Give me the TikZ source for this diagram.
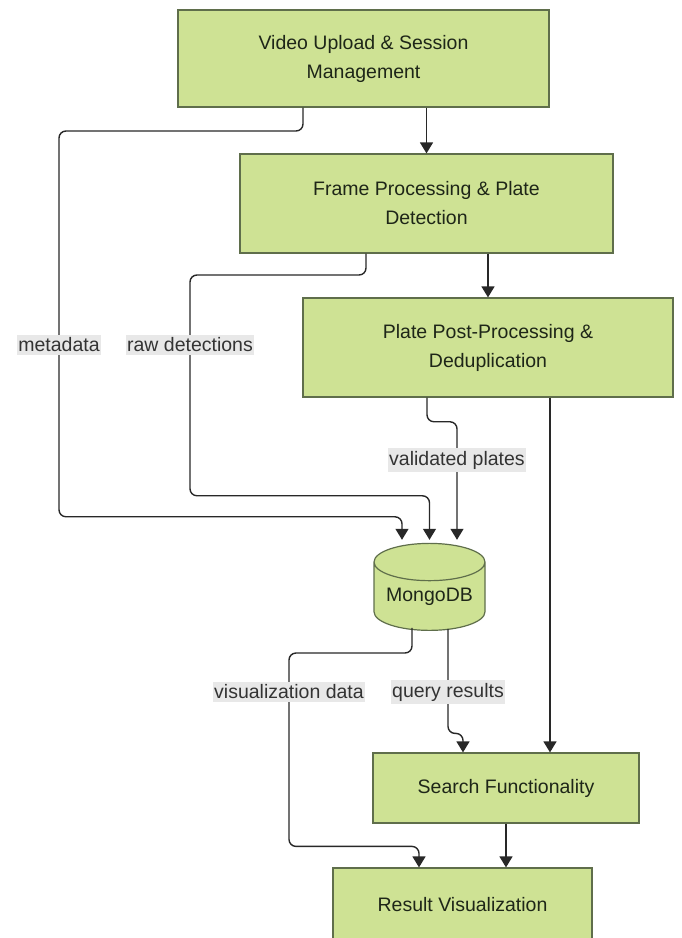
\documentclass[tikz,border=0pt]{standalone}
\usepackage{fontspec}
\setmainfont{Liberation Sans}
\usetikzlibrary{shapes.geometric,arrows.meta,calc}
\definecolor{boxfill}{RGB}{206,226,148}
\definecolor{boxline}{RGB}{95,110,75}
\definecolor{lblfill}{RGB}{232,232,232}
\definecolor{wirecol}{RGB}{40,40,40}
\definecolor{txtcol}{RGB}{30,38,24}
\begin{document}
\begin{tikzpicture}[x=1pt,y=-1pt,
  box/.style={draw=boxline, fill=boxfill, line width=1.2pt, align=center,
    font=\fontsize{19.5}{29}\selectfont, text=txtcol, inner sep=0pt},
  dbshape/.style={cylinder, shape border rotate=90, aspect=0.43, draw=boxline,
    fill=boxfill, line width=1.2pt, font=\fontsize{19.5}{24}\selectfont,
    text=txtcol, inner sep=0pt},
  wire/.style={draw=wirecol, line width=1.4pt, rounded corners=7pt},
  arr/.style={wire, -{Triangle[length=11pt,width=13pt]}},
  lab/.style={fill=lblfill, font=\fontsize{19.5}{24}\selectfont, text=black!80,
    inner xsep=1.5pt, inner ysep=3pt}]
\useasboundingbox (0,0) rectangle (681,938);

\node[box, minimum width=371pt, minimum height=97pt] (upload) at (363.5,58.5)
  {Video Upload \& Session\\Management};
\node[box, minimum width=373pt, minimum height=99pt] (frame) at (426.5,203.5)
  {Frame Processing \& Plate\\Detection};
\node[box, minimum width=370pt, minimum height=99pt] (post) at (488,347.5)
  {Plate Post-Processing \&\\Deduplication};
\node[dbshape, minimum width=111pt, minimum height=87pt] (mongo) at (429.5,596.5)
  {MongoDB};
\node[box, minimum width=266pt, minimum height=70pt] (search) at (506,788)
  {Search Functionality};
\node[box, minimum width=259pt, minimum height=74pt] (result) at (462.5,905)
  {Result Visualization};

% main flow
\draw[arr] (upload.south -| frame.north) -- (frame.north);
\draw[arr] (frame.south -| post.north) -- (post.north);

% metadata
\draw[arr] ($(upload.south)+(-60.5,0)$) |- (59,131)
  |- ($(mongo.north)+(-27.5,-26)$) -- ($(mongo.north)+(-27.5,-3)$);
% raw detections
\draw[arr] ($(frame.south)+(-60.5,0)$) |- (190,275)
  |- ($(mongo.north)+(0,-47)$) -- ($(mongo.north)+(0,-3)$);
% validated plates
\draw[arr] ($(post.south)+(-61,0)$) |- ($(mongo.north)+(27.5,-121)$)
  -- ($(mongo.north)+(27.5,-3)$);
% post -> search
\draw[arr] ($(post.south)+(62,0)$) -- ($(search.north)+(44,0)$);
% query results
\draw[arr] ($(mongo.south)+(18.5,-2)$) |- ($(search.north)+(-43,-19)$)
  -- ($(search.north)+(-43,0)$);
% visualization data
\draw[arr] ($(mongo.south)+(-17.5,-3)$) |- (289,653)
  |- ($(result.north)+(-43.5,-21)$) -- ($(result.north)+(-43.5,0)$);
% search -> result
\draw[arr] (search.south) -- (search.south |- result.north);

% labels
\node[lab] (lmeta) at (59,345) {metadata};
\node[lab] (lraw) at (190,345) {raw detections};
\node[lab] (lval) at (457,460) {validated plates};
\node[lab] (lvis) at (289,692) {visualization data};
\node[lab] (lquery) at (448,692) {query results};
\end{tikzpicture}
\end{document}
